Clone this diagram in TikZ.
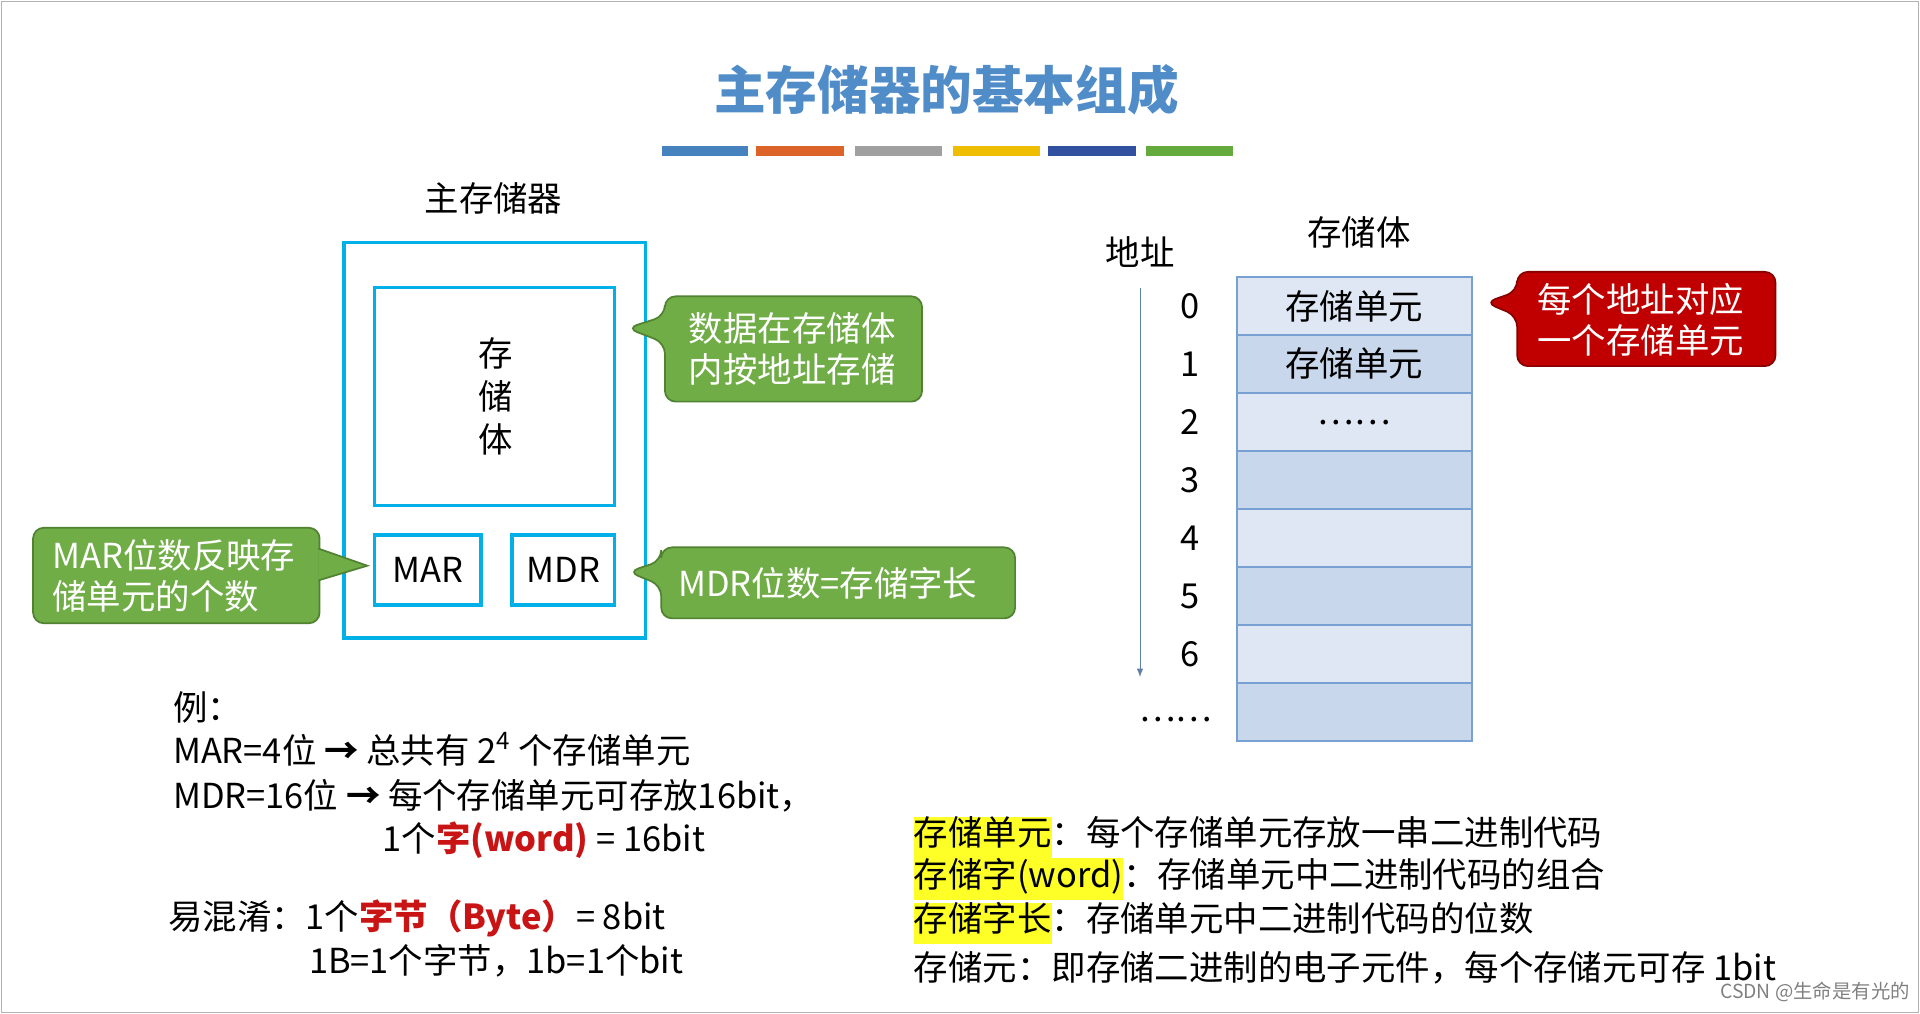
\documentclass[tikz,border=0pt]{standalone}
\usepackage{fontspec}
\setmainfont{Noto Sans CJK SC}
\usetikzlibrary{positioning}
\definecolor{titleblue}{RGB}{80,140,200}
\definecolor{boxcyan}{RGB}{0,176,230}
\definecolor{callgreen}{RGB}{112,173,71}
\definecolor{callgreenb}{RGB}{80,130,50}
\definecolor{callred}{RGB}{192,0,0}
\definecolor{cellA}{RGB}{222,231,243}
\definecolor{cellB}{RGB}{200,215,235}
\definecolor{cellline}{RGB}{120,160,210}
\definecolor{wordred}{RGB}{200,20,20}
\definecolor{hl}{RGB}{255,255,40}
\definecolor{bar1}{RGB}{70,130,190}
\definecolor{bar2}{RGB}{220,100,40}
\definecolor{bar3}{RGB}{160,160,160}
\definecolor{bar4}{RGB}{240,190,0}
\definecolor{bar5}{RGB}{50,80,160}
\definecolor{bar6}{RGB}{100,170,60}
\newcommand\hlword[1]{{\setlength\fboxsep{0pt}\colorbox{hl}{\strut#1}}}
\newcommand\redword[1]{\textcolor{wordred}{\bfseries #1}}
\tikzset{
  txt/.style={font=\fontsize{16}{19}\selectfont, inner sep=0pt},
  cbox/.style={draw=boxcyan, line width=1.6pt},
  greencall/.style={fill=callgreen, draw=callgreenb, line width=0.8pt, rounded corners=5pt},
  redcall/.style={fill=callred, draw=callred!70!black, line width=0.8pt, rounded corners=5pt},
  calltxt/.style={font=\fontsize{16}{19}\selectfont, inner sep=0pt, text=white, align=left},
  cell/.style={draw=cellline, line width=0.8pt}
}
\begin{document}
\begin{tikzpicture}[x=0.02cm,y=-0.02cm]
\useasboundingbox (0,0) rectangle (1568,828);
\draw[gray!60] (1,1) rectangle (1567,827);

% title and colour bars
\node[font=\fontsize{24}{28}\selectfont\bfseries, text=titleblue] (title) at (773,73) {主存储器的基本组成};
\foreach \xa/\xb/\c in {541/611/bar1, 617/689/bar2, 698/769/bar3, 778/849/bar4, 856/928/bar5, 936/1007/bar6}{
  \fill[\c] (\xa,119) rectangle (\xb,127);
}

% main memory
\node[txt] (mmlabel) at (403,162) {主存储器};
\draw[cbox] (281,198) rectangle (527,521);
\draw[cbox] (306,235) rectangle (502,413);
\node[txt, align=center] (bank) at (405,324) {存\\[1pt]储\\[1pt]体};
\node[cbox, txt, minimum width=1.74cm, minimum height=1.14cm] (mar) at (349.5,465.5) {MAR};
\node[cbox, txt, minimum width=1.68cm, minimum height=1.14cm] (mdr) at (460,465.5) {MDR};

% callouts
\draw[greencall] (543,242) -- (543,258) -- (512,268) -- (543,280) -- (543,328) -- (753,328) -- (753,242) -- cycle;
\node[calltxt] (c1) at (647,285) {数据在存储体\\内按地址存储};
\draw[greencall] (27,431) rectangle (261,509);
\draw[greencall, rounded corners=0pt] (260,448) -- (300,462) -- (260,474);
\node[calltxt] (c2) at (142,470) {MAR位数反映存\\储单元的个数};
\draw[greencall] (540,447) -- (540,458) -- (513,467) -- (540,478) -- (540,505) -- (829,505) -- (829,447) -- cycle;
\node[calltxt] (c3) at (676,476) {MDR位数=存储字长};
\draw[redcall] (1239,222) -- (1239,238) -- (1213,247) -- (1239,258) -- (1239,299) -- (1450,299) -- (1450,222) -- cycle;
\node[calltxt] (c4) at (1340,261) {每个地址对应\\一个存储单元};

% memory bank table
\node[txt] (banklabel) at (1110,190) {存储体};
\node[txt] (addrlabel) at (931,206) {地址};
\foreach \i in {0,...,7}{
  \pgfmathsetmacro\ya{226+47.4*\i}
  \pgfmathsetmacro\yb{226+47.4*(\i+1)}
  \ifodd\i \def\cc{cellB}\else\def\cc{cellA}\fi
  \draw[cell, fill=\cc] (1010,\ya) rectangle (1202,\yb);
}
\node[txt] (r0) at (1106,250) {存储单元};
\node[txt] (r1) at (1106,297) {存储单元};
\node[txt] (r2) at (1106,345) {……};
\foreach \n in {0,...,6}{
  \node[txt] (a\n) at (972,250+47.4*\n) {\n};
}
\node[txt] (adots) at (960,588) {……};
\coordinate (arrtop) at (931,235);
\coordinate (arrbot) at (931,553);
\draw[cellline!80!black, -latex] (arrtop) -- (arrbot);

% example text
\node[txt, anchor=west] (e0) at (141,578) {例：};
\node[txt, anchor=west] (e1) at (141,612) {MAR=4位 \textbf{→} 总共有 2\textsuperscript{4} 个存储单元};
\node[txt, anchor=west] (e2) at (141,650) {MDR=16位 \textbf{→} 每个存储单元可存放16bit，};
\node[txt, anchor=west] (e3) at (312,686) {1个\redword{字(word)} = 16bit};
\node[txt, anchor=west] (e4) at (137,750) {易混淆：1个\redword{字节（Byte）}= 8bit};
\node[txt, anchor=west] (e5) at (252,785) {1B=1个字节，1b=1个bit};

% definitions
\node[txt, anchor=west] (d1) at (746,684) {\hlword{存储单元}：每个存储单元存放一串二进制代码};
\node[txt, anchor=west] (d2) at (746,718) {\hlword{存储字(word)}：存储单元中二进制代码的组合};
\node[txt, anchor=west] (d3) at (746,754) {\hlword{存储字长}：存储单元中二进制代码的位数};
\node[txt, anchor=west] (d4) at (746,790) {存储元：即存储二进制的电子元件，每个存储元可存 1bit};

\node[font=\fontsize{9}{10}\selectfont, text=gray, anchor=east, inner sep=0pt] (wm) at (1560,810) {CSDN @生命是有光的};
\end{tikzpicture}
\end{document}
